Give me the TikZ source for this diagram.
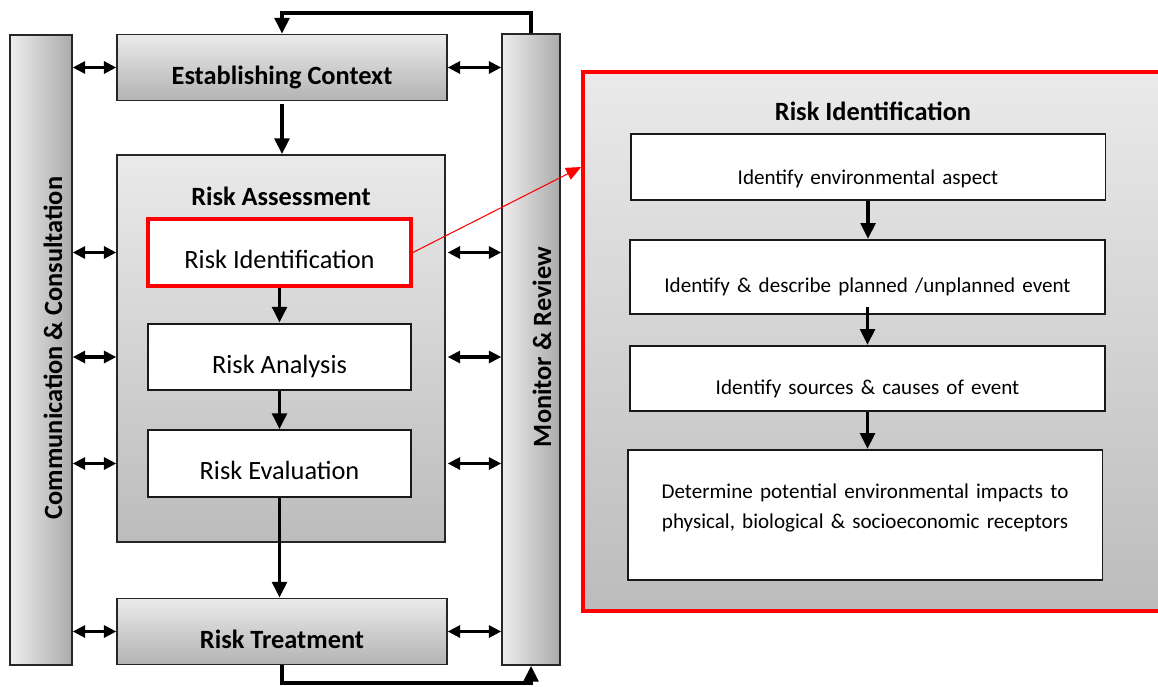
\documentclass[tikz,border=0pt]{standalone}
\usepackage{fontspec}
\setmainfont{Carlito}
\usetikzlibrary{arrows.meta,positioning,calc}
\definecolor{riskRed}{HTML}{FF0000}
\definecolor{shadeLight}{HTML}{EDEDED}
\definecolor{shadeDark}{HTML}{ABABAB}
\definecolor{boxLight}{HTML}{EAEAEA}
\definecolor{boxDark}{HTML}{BCBCBC}
\newcommand\idfont{\fontsize{12}{17.5}\selectfont\spaceskip=0.34em plus 0.1em\relax}

\begin{document}
\begin{tikzpicture}[x=0.02cm, y=-0.02cm, font=\fontsize{15}{18}\selectfont,
  bar/.style={draw=black!85, line width=0.8pt, left color=shadeLight, right color=shadeDark},
  bold/.style={font=\fontsize{15}{18}\selectfont\bfseries},
  stage/.style={draw=black!85, line width=0.8pt, top color=boxLight, bottom color=shadeDark!90,
    bold, minimum width=6.6cm, minimum height=1.32cm, text height=0.68cm, text depth=0pt},
  substep/.style={draw=black!90, line width=1.1pt, fill=white, minimum width=5.26cm,
    minimum height=1.33cm, text height=0.64cm, text depth=0pt},
  idbox/.style={draw=black!90, line width=1.1pt, fill=white, minimum width=9.5cm},
  idtext/.style={font=\idfont},
  flow/.style={line width=2.2pt, -{Triangle[length=0.32cm,width=0.29cm]}},
  both/.style={line width=2.2pt, {Triangle[length=0.25cm,width=0.24cm]}-{Triangle[length=0.25cm,width=0.24cm]}}]
  \useasboundingbox (0,0) rectangle (1158,686);

  % process column
  \node[bar, minimum width=1.24cm, minimum height=12.6cm] (comm) at (41,350) {};
  \node[bold, rotate=90] (commtext) at (53,348) {Communication \& Consultation};
  \node[bar, minimum width=1.16cm, minimum height=12.62cm] (monitor) at (531,349.5) {};
  \node[bold, rotate=90] (montext) at (542,347) {Monitor \& Review};
  \node[stage] (context) at (282,67.5) {Establishing Context};
  \node[stage] (treat) at (282,631.5) {Risk Treatment};
  \node[draw=black!85, line width=0.8pt, top color=boxLight, bottom color=boxDark,
    minimum width=6.56cm, minimum height=7.74cm] (assess) at (281,348.5) {};
  \node[bold] (assesstitle) at (281,196) {Risk Assessment};
  \node[substep, draw=riskRed, line width=2.2pt] (ident) at (279.5,252.5) {Risk Identification};
  \node[substep] (analysis) at (279.5,357) {Risk Analysis};
  \node[substep] (evalu) at (279.5,463.5) {Risk Evaluation};

  \draw[flow] ([yshift=-0.06cm]context.south) -- (context.south |- assess.north);
  \draw[flow] (ident.south) -- (analysis.north);
  \draw[flow] (analysis.south) -- (evalu.north);
  \draw[flow] (evalu.south) -- (evalu.south |- treat.north);
  \draw[flow] (monitor.north) -- ++(0,-20) -| (context.north);
  \draw[flow] (treat.south) -- ++(0,18) -| (monitor.south);
  \foreach \n in {context,ident,analysis,evalu,treat} {
    \draw[both] (comm.east |- \n.west) -- (context.west |- \n.west);
    \draw[both] (context.east |- \n.east) -- (monitor.west |- \n.east);
  }

  % zoomed risk identification
  \node[draw=riskRed, line width=2.2pt, top color=boxLight, bottom color=boxDark,
    minimum width=11.74cm, minimum height=10.78cm] (panel) at (876.5,341.5) {};
  \node[bold] (paneltitle) at (873,111) {Risk Identification};
  \node[idbox, minimum height=1.32cm] (s1) at (868,167) {};
  \node[idtext] (s1t) at ([yshift=-0.24cm]s1.center) {Identify environmental aspect};
  \node[idbox, minimum height=1.48cm] (s2) at (867.5,277) {};
  \node[idtext] (s2t) at ([yshift=-0.2cm]s2.center) {Identify \& describe planned /unplanned event};
  \node[idbox, minimum height=1.3cm] (s3) at (867.5,378.5) {};
  \node[idtext] (s3t) at ([yshift=-0.2cm]s3.center) {Identify sources \& causes of event};
  \node[idbox, minimum height=2.6cm] (s4) at (865,515) {};
  \node[idtext, align=center] (s4t) at ([yshift=0.14cm]s4.center)
    {Determine potential environmental impacts to\\physical, biological \& socioeconomic receptors};

  \draw[flow] (s1.south) -- (s1.south |- s2.north);
  \draw[flow] ([yshift=0.15cm]s2.south) -- (s2.south |- s3.north);
  \draw[flow] (s3.south) -- (s3.south |- s4.north);
  \draw[riskRed, line width=0.6pt, -{Triangle[length=0.3cm,width=0.26cm]}] (ident.east) -- (panel.west |- s1.center);
\end{tikzpicture}
\end{document}
